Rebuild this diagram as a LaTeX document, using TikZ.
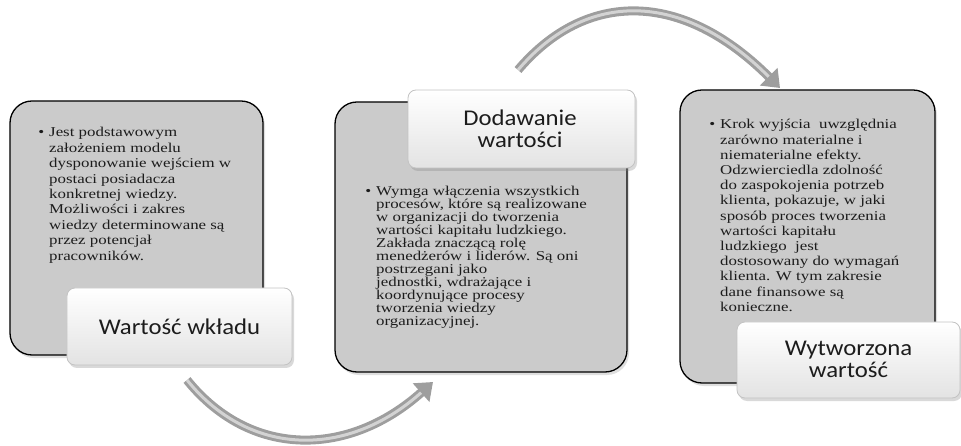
\documentclass[tikz,border=0pt]{standalone}
\usepackage{fontspec}
\setmainfont{Liberation Serif}
\newfontfamily\bodyfont[FakeStretch=1.25]{Liberation Serif}
\newfontfamily\labelfont[FakeStretch=1.1]{Carlito}
\usetikzlibrary{arrows.meta,shadows}
\definecolor{boxgray}{RGB}{203,203,203}
\definecolor{txt}{RGB}{28,28,28}
\definecolor{lblborder}{RGB}{195,195,195}
\definecolor{arrowgray}{RGB}{158,158,158}
\newcommand{\bul}{\leavevmode\llap{\textbullet\hspace{5bp}}}
\begin{document}
\begin{tikzpicture}[x=1bp,y=-1bp,
  outerbox/.style={draw=black, line width=1.3bp, fill=boxgray, rounded corners=22bp,
    inner sep=0, outer sep=0,
    drop shadow={opacity=0.25, shadow xshift=2bp, shadow yshift=-3bp}},
  labelbox/.style={draw=lblborder, line width=0.8bp, rounded corners=8bp,
    top color=white, bottom color=gray!22, inner sep=0, outer sep=0,
    drop shadow={opacity=0.3, shadow xshift=2bp, shadow yshift=-3bp}},
  bodytext/.style={anchor=base west, inner sep=0, text=txt,
    font=\bodyfont\fontsize{13.5bp}{15.4bp}\selectfont},
  labeltext/.style={anchor=base, inner sep=0, text=txt,
    font=\labelfont\fontsize{22.5bp}{22bp}\selectfont},
  bigarrow/.style={line width=9bp, draw=arrowgray, -{Triangle[length=16bp,width=24bp]}},
  highlight/.style={line width=3bp, draw=white, opacity=0.55, shorten >=16bp}
]
\useasboundingbox (0,0) rectangle (961,446);

% left
\node[outerbox, minimum width=253bp, minimum height=254bp] (b1) at (136.5,228) {};
\node[bodytext] (t1) at (49,137) {\parbox[t]{260bp}{\bul Jest podstawowym\\
założeniem modelu\\
dysponowanie wejściem w\\
postaci posiadacza\\
konkretnej wiedzy.\\
Możliwości i zakres\\
wiedzy determinowane są\\
przez potencjał\\
pracowników.}};
\node[labelbox, minimum width=225bp, minimum height=77bp] (l1) at (179.5,326.5) {};
\node[labeltext] (lt1) at (179.5,335) {Wartość wkładu};

% middle
\node[outerbox, minimum width=292bp, minimum height=270bp] (b2) at (481,237) {};
\node[bodytext, font=\bodyfont\fontsize{13.5bp}{13bp}\selectfont] (t2) at (376,196) {\parbox[t]{280bp}{\bul Wymga włączenia wszystkich\\
procesów, które są realizowane\\
w organizacji do tworzenia\\
wartości kapitału ludzkiego.\\
Zakłada znaczącą rolę\\
menedżerów i liderów. Są oni\\
postrzegani jako\\
jednostki, wdrażające i\\
koordynujące procesy\\
tworzenia wiedzy\\
organizacyjnej.}};
\node[labelbox, minimum width=227bp, minimum height=78bp] (l2) at (521.5,129) {};
\node[labeltext] (lt2) at (520,126) {\parbox[t]{220bp}{\centering Dodawanie\\ wartości}};

% right
\node[outerbox, minimum width=255bp, minimum height=293bp] (b3) at (807.5,236.5) {};
\node[bodytext, font=\bodyfont\fontsize{13.5bp}{15.2bp}\selectfont] (t3) at (720,129) {\parbox[t]{260bp}{\bul Krok wyjścia\ \ uwzględnia\\
zarówno materialne i\\
niematerialne efekty.\\
Odzwierciedla zdolność\\
do zaspokojenia potrzeb\\
klienta, pokazuje, w jaki\\
sposób proces tworzenia\\
wartości kapitału\\
ludzkiego\ \ jest\\
dostosowany do wymagań\\
klienta. W tym zakresie\\
dane finansowe są\\
konieczne.}};
\node[labelbox, minimum width=223bp, minimum height=76bp] (l3) at (848.5,360) {};
\node[labeltext] (lt3) at (848.5,356) {\parbox[t]{220bp}{\centering Wytworzona\\ wartość}};

% arrows
\coordinate (a1s) at (187,380);
\coordinate (a1e) at (433,382);
\coordinate (a2s) at (518,70);
\coordinate (a2e) at (780,88);
\draw[bigarrow] (a1s) .. controls (250,458) and (348,458) .. (a1e);
\draw[highlight] (a1s) .. controls (250,458) and (348,458) .. (a1e);
\draw[bigarrow] (a2s) .. controls (586,-10) and (682,-10) .. (a2e);
\draw[highlight] (a2s) .. controls (586,-10) and (682,-10) .. (a2e);
\end{tikzpicture}
\end{document}
